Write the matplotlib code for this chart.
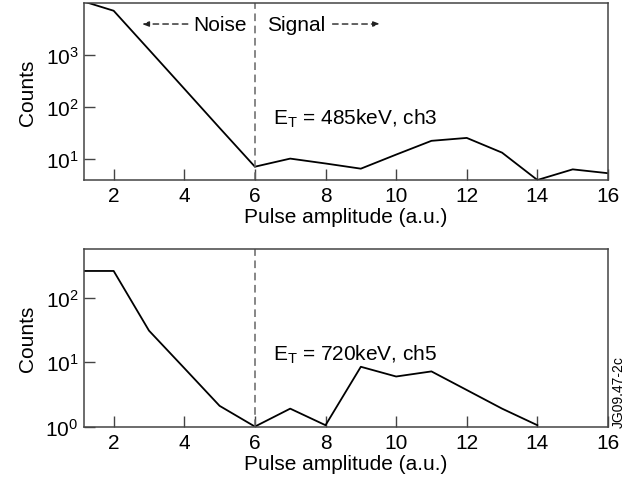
# libraries
import matplotlib.pyplot as plt

plt.rcParams['font.family'] = ['Liberation Sans', 'DejaVu Sans']

# data
x_top = [1, 2, 3, 4, 5, 6, 7, 8, 9, 10, 11, 12, 13, 14, 15, 16]
counts_top = [11500, 7100, 1270, 226, 40, 7.2, 10.3, 8.3, 6.6, 12.3, 22.6, 25.7, 13.4, 4.0, 6.4, 5.4]
x_bot = [1, 2, 3, 4, 5, 6, 7, 8, 9, 10, 11, 12, 13, 14]
counts_bot = [262, 262, 31, 8.1, 2.1, 1.0, 1.9, 1.05, 8.5, 6.0, 7.2, 3.7, 1.9, 1.05]
x_ticks = [2, 4, 6, 8, 10, 12, 14, 16]
threshold = 6
label_top = r'E$_\mathregular{T}$ = 485keV, ch3'
label_bot = r'E$_\mathregular{T}$ = 720keV, ch5'

# figure
W, H = 634, 485
fs = 15
fig = plt.figure(figsize=(W / 100, H / 100), dpi=100)
ax1 = fig.add_axes([84 / W, 1 - 181 / H, 524 / W, 177 / H])
ax2 = fig.add_axes([84 / W, 1 - 428 / H, 524 / W, 178 / H])

spine_col = '#444444'
for ax, xs, ys, ylim, lab, ly in [
    (ax1, x_top, counts_top, (4, 1e4), label_top, 63),
    (ax2, x_bot, counts_bot, (0.985, 575), label_bot, 13.8),
]:
    ax.plot(xs, ys, color='black', lw=1.3, clip_on=True)
    ax.axvline(threshold, color='#666666', lw=1.1, ls=(0, (5, 3)))
    ax.set_yscale('log')
    ax.set_xlim(1.16, 16)
    ax.set_ylim(*ylim)
    ax.set_xticks(x_ticks)
    ax.minorticks_off()
    ax.yaxis.set_minor_locator(plt.NullLocator())
    ax.tick_params(direction='in', length=8, width=1, color=spine_col,
                   labelsize=fs, pad=4, top=False, right=False)
    for s in ax.spines.values():
        s.set_color(spine_col)
        s.set_linewidth(1.1)
    ax.set_xlabel('Pulse amplitude (a.u.)', fontsize=fs, labelpad=2)
    ax.set_ylabel('Counts', fontsize=fs, labelpad=6)
    ax.text(6.5, ly, lab, fontsize=fs, ha='left', va='center')

ax1.set_yticks([10, 100, 1000])
ax2.set_yticks([1, 10, 100])

# noise / signal markers
y_ns = 3950
ax1.text(5.78, y_ns, 'Noise', fontsize=fs, ha='right', va='center')
ax1.text(6.33, y_ns, 'Signal', fontsize=fs, ha='left', va='center')
ax1.annotate('', xy=(2.8, y_ns), xytext=(4.1, y_ns),
             arrowprops=dict(arrowstyle='-|>,head_length=0.4,head_width=0.15',
                             ls=(0, (4, 3)), color='#222222', lw=1,
                             shrinkA=0, shrinkB=0))
ax1.annotate('', xy=(9.55, y_ns), xytext=(8.2, y_ns),
             arrowprops=dict(arrowstyle='-|>,head_length=0.4,head_width=0.15',
                             ls=(0, (4, 3)), color='#222222', lw=1,
                             shrinkA=0, shrinkB=0))

# figure id
fig.text(612 / W, 1 - 428 / H, 'JG09.47-2c', rotation=90, fontsize=10,
         ha='left', va='bottom')

fig.savefig('out.png', dpi=100)
